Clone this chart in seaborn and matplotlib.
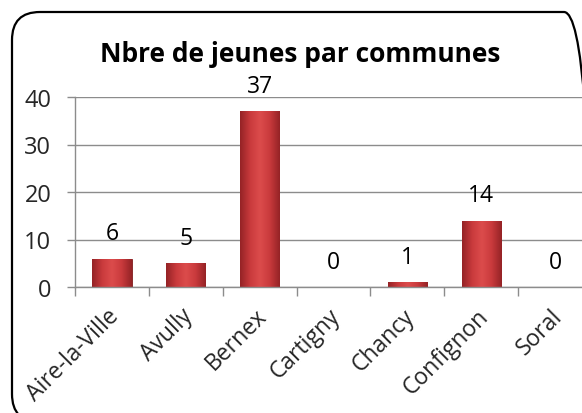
import matplotlib
matplotlib.use("Agg")
import matplotlib.pyplot as plt
import matplotlib.transforms as mtransforms
import seaborn as sns
import pandas as pd
import numpy as np
from matplotlib.patches import FancyBboxPatch
from matplotlib.colors import LinearSegmentedColormap

communes = ["Aire-la-Ville", "Avully", "Bernex", "Cartigny", "Chancy", "Confignon", "Soral"]
jeunes = [6, 5, 37, 0, 1, 14, 0]
yticks = [0, 10, 20, 30, 40]
title = "Nbre de jeunes par communes"

sns.set_theme(style="white")
plt.rcParams['font.family'] = ['Open Sans', 'DejaVu Sans']

df = pd.DataFrame({"commune": communes, "jeunes": jeunes})

W, H = 582, 414
fig = plt.figure(figsize=(W / 100, H / 100), dpi=100)
fig.patch.set_facecolor("white")

# rounded chart border, in pixel (display) coordinates, partly cut off right/bottom
border = FancyBboxPatch((12, H - 423), 580, 410,
                        boxstyle="round,pad=0,rounding_size=28",
                        fill=False, edgecolor="black", linewidth=1.6,
                        transform=mtransforms.IdentityTransform())
fig.patches.append(border)

ax = fig.add_axes([75 / W, 126 / H, 517 / W, 190 / H])
sns.barplot(data=df, x="commune", y="jeunes", ax=ax, color="#c9383a",
            width=0.53, edgecolor="#7d1a1c", linewidth=0.6, saturation=1)

# bevelled gradient look on each bar
cmap = LinearSegmentedColormap.from_list("bev", ["#952326", "#c93a3c", "#dc4c4c", "#c93a3c", "#952326"])
grad = np.linspace(0, 1, 64).reshape(1, -1)
for p in ax.patches:
    x0, y0 = p.get_x(), p.get_y()
    w, h = p.get_width(), p.get_height()
    if h <= 0:
        continue
    im = ax.imshow(grad, cmap=cmap, aspect="auto", extent=[x0, x0 + w, y0, y0 + h],
                   zorder=p.get_zorder() + 0.1, interpolation="bicubic")
    im.set_clip_path(p)

ax.set_ylim(0, 40)
ax.set_xlim(-0.5, len(communes) - 0.5)
ax.set_yticks(yticks)
ax.yaxis.grid(True, color="#8c8c8c", linewidth=1)
ax.set_axisbelow(True)
for s in ["top", "right"]:
    ax.spines[s].set_visible(False)
for s in ["left", "bottom"]:
    ax.spines[s].set_color("#8c8c8c")
    ax.spines[s].set_linewidth(1)

ax.set_xticks([i - 0.5 for i in range(len(communes) + 1)], minor=True)
ax.tick_params(axis="x", which="minor", length=6.5, width=1, color="#8c8c8c", bottom=True)
ax.tick_params(axis="x", which="major", length=0, labelsize=16.5, pad=12)
ax.tick_params(axis="y", length=6, width=1, color="#8c8c8c", left=True, labelsize=17, pad=11)
ax.set_xticks(range(len(communes)))
ax.set_xticklabels(communes, rotation=45, ha="right", rotation_mode="anchor")
shift = mtransforms.ScaledTranslation(-5 / 100, 0, fig.dpi_scale_trans)
for lbl in ax.get_xticklabels():
    lbl.set_transform(lbl.get_transform() + shift)
ax.set_xlabel("")
ax.set_ylabel("")

for i, v in enumerate(jeunes):
    ax.annotate(str(v), (i, v), xytext=(0, 18), textcoords="offset points",
                ha="center", va="center", fontsize=16.5, color="black", annotation_clip=False)

fig.text(300 / W, 1 - 54 / H, title, ha="center", va="center",
         fontsize=19, fontweight="bold", color="black")

fig.savefig("out.png", dpi=100)
